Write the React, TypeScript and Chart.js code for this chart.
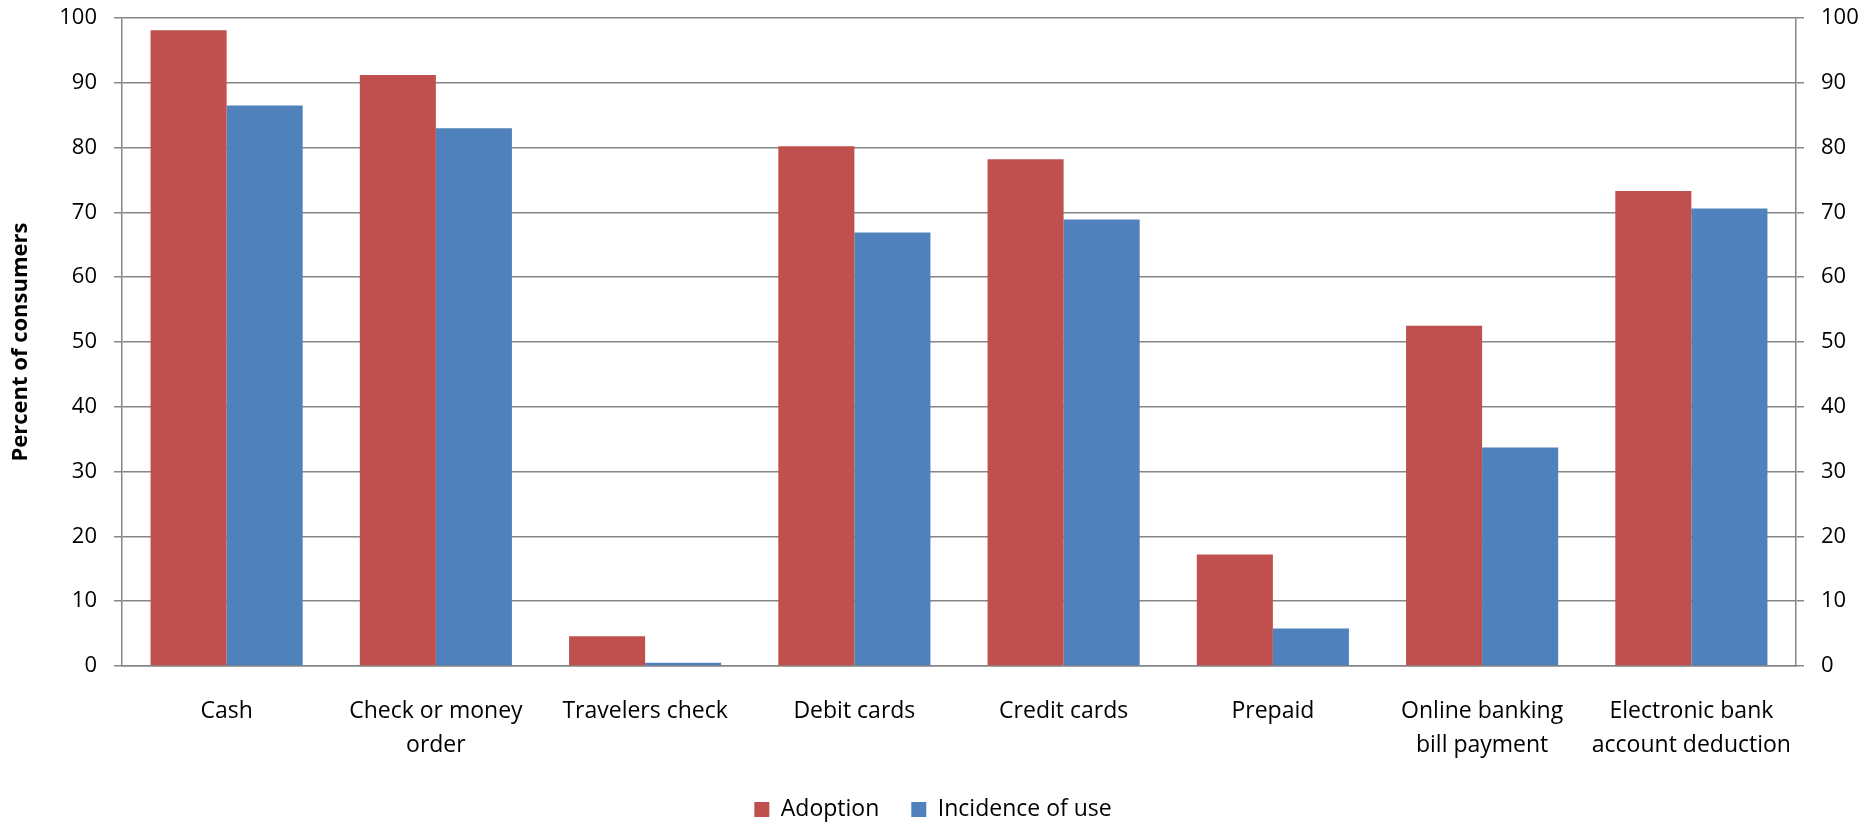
import { useEffect, useRef } from 'react';
import Chart from 'chart.js/auto';

const categories: (string | string[])[] = [
  'Cash',
  ['Check or money', 'order'],
  'Travelers check',
  'Debit cards',
  'Credit cards',
  'Prepaid',
  ['Online banking', 'bill payment'],
  ['Electronic bank', 'account deduction'],
];

const adoption = [98.1, 91.2, 4.6, 80.2, 78.2, 17.2, 52.5, 73.3];
const incidence = [86.5, 83.0, 0.5, 66.9, 68.9, 5.8, 33.7, 70.6];

const seriesNames = ['Adoption', 'Incidence of use'];
const axisTitle = 'Percent of consumers';

const FONT = '"Open Sans", "Liberation Sans", sans-serif';
const GRID = '#868686';

const App = () => {
  const canvasRef = useRef<HTMLCanvasElement>(null);
  const chartRef = useRef<Chart | null>(null);

  useEffect(() => {
    document.body.style.margin = '0';
    if (!canvasRef.current) return;
    const ctx = canvasRef.current.getContext('2d');
    if (!ctx) return;

    if (chartRef.current) chartRef.current.destroy();

    chartRef.current = new Chart(ctx, {
      type: 'bar',
      data: {
        labels: categories,
        datasets: [
          {
            label: seriesNames[0],
            data: adoption,
            backgroundColor: '#C0504D',
            yAxisID: 'y',
          },
          {
            label: seriesNames[1],
            data: incidence,
            backgroundColor: '#4F81BD',
            yAxisID: 'y',
          },
        ],
      },
      options: {
        animation: false,
        responsive: true,
        maintainAspectRatio: false,
        layout: { padding: { top: 18, left: 0, right: 0, bottom: 0 } },
        datasets: {
          bar: { categoryPercentage: 0.727, barPercentage: 1 },
        },
        plugins: {
          tooltip: { enabled: false },
          legend: {
            position: 'bottom',
            labels: {
              boxWidth: 15,
              boxHeight: 15,
              padding: 32,
              color: '#000',
              font: { family: FONT, size: 23 },
            },
          },
        },
        scales: {
          x: {
            grid: { display: true, drawOnChartArea: false, drawTicks: false },
            border: { display: true, color: GRID, width: 1.5 },
            ticks: {
              color: '#000',
              padding: 28,
              maxRotation: 0,
              autoSkip: false,
              font: { family: FONT, size: 23, lineHeight: 1.48 },
            },
            afterFit: (scale: any) => {
              scale.height = 100;
            },
          },
          y: {
            position: 'left',
            min: 0,
            max: 100,
            ticks: {
              stepSize: 10,
              color: '#000',
              padding: 17,
              font: { family: FONT, size: 22 },
            },
            grid: { color: GRID, lineWidth: 1.5, tickLength: 8 },
            border: { display: true, color: GRID, width: 1.5 },
            title: {
              display: true,
              text: axisTitle,
              color: '#000',
              padding: { top: 8, bottom: 0 },
              font: { family: FONT, size: 22, weight: 'bold' },
            },
            afterFit: (scale: any) => {
              scale.width = 122;
              scale.paddingTop = 0;
              scale.paddingBottom = 0;
            },
          },
          y1: {
            position: 'right',
            min: 0,
            max: 100,
            ticks: {
              stepSize: 10,
              color: '#000',
              padding: 17,
              font: { family: FONT, size: 22 },
            },
            grid: { color: GRID, lineWidth: 1.5, tickLength: 8, drawOnChartArea: false },
            border: { display: true, color: GRID, width: 1.5 },
            afterFit: (scale: any) => {
              scale.width = 70;
              scale.paddingTop = 0;
              scale.paddingBottom = 0;
            },
          },
        },
      },
    });

    return () => {
      if (chartRef.current) {
        chartRef.current.destroy();
        chartRef.current = null;
      }
    };
  }, []);

  return (
    <div style={{ position: 'relative', width: '1866px', height: '831px' }}>
      <canvas ref={canvasRef} />
    </div>
  );
};

export default App;
